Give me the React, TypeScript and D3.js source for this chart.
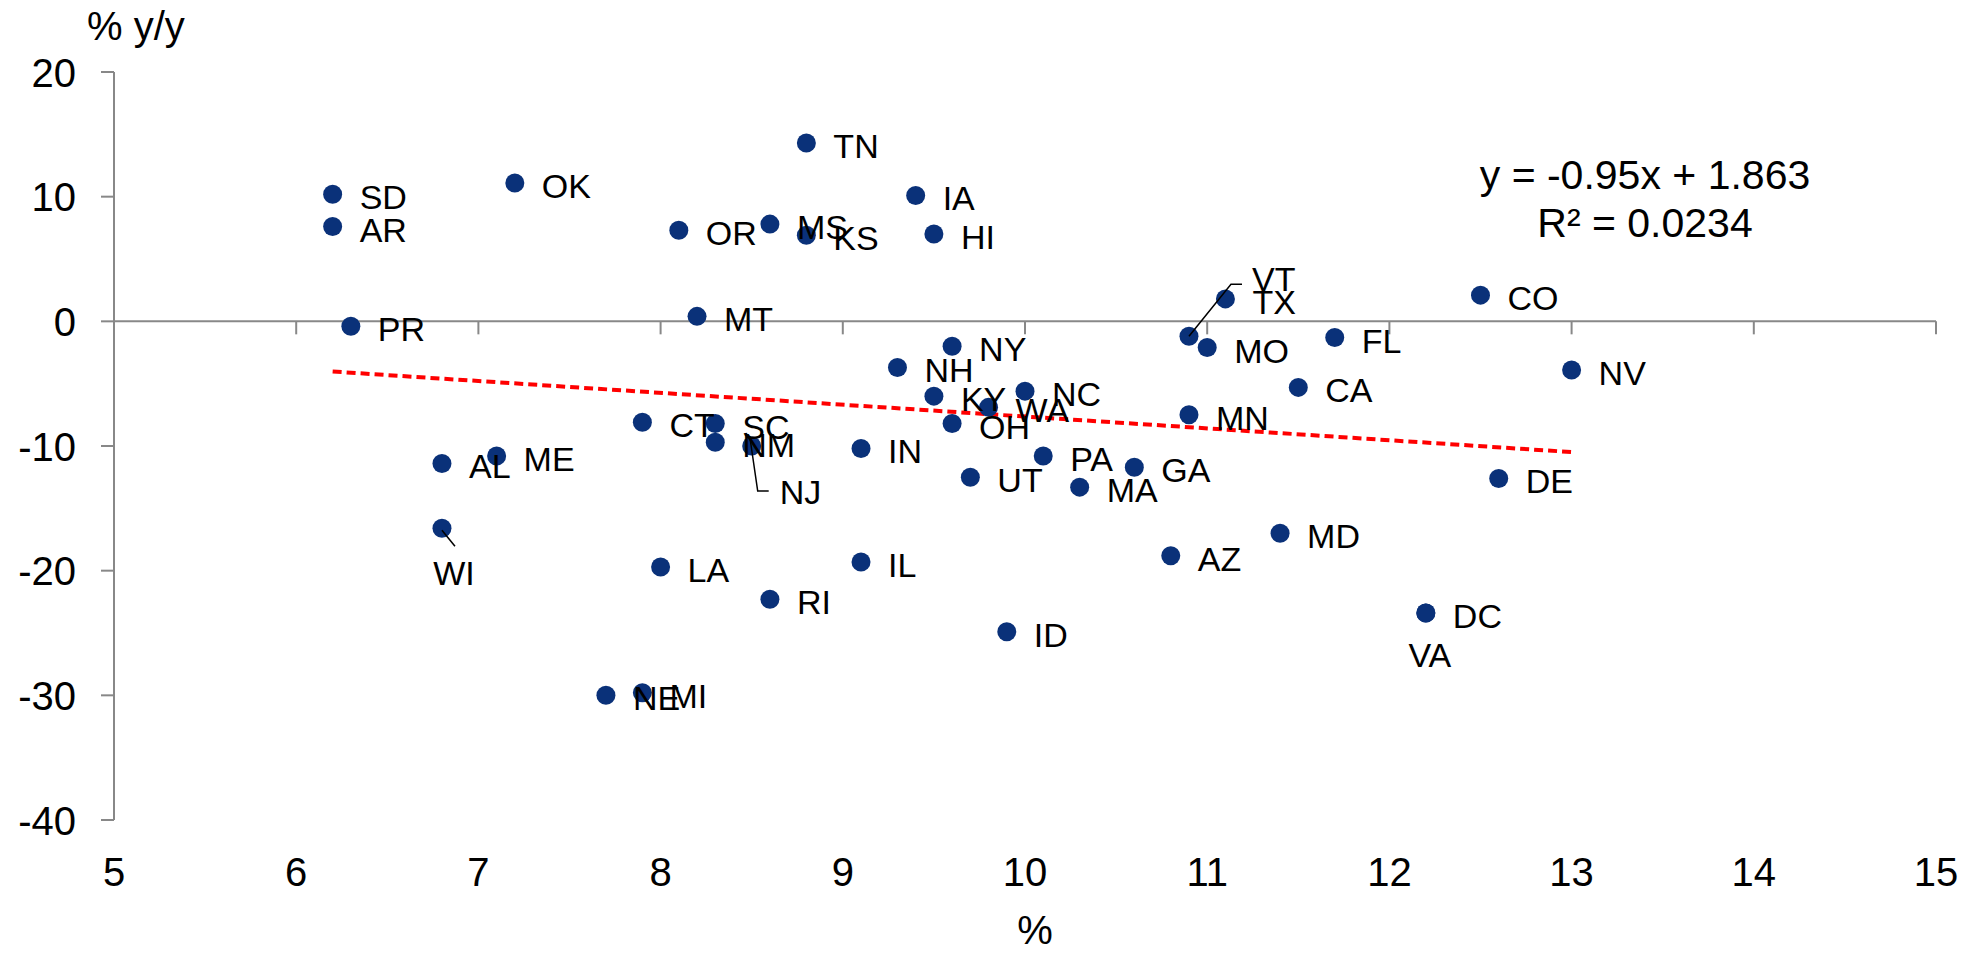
import React from "react";
import * as d3 from "d3";

const states = ["SD","AR","OK","PR","CT","AL","ME","MT","OR","TN","IA","MS","KS","HI","TX","VT","MO","FL","NY","NH","KY","NC","WA","OH","CA","MN","SC","NM","NJ","IN","PA","GA","UT","MA","MD","AZ","LA","IL","RI","ID","WI","NE","MI","DE","DC","VA","CO","NV"];
const xVals = [6.2,6.2,7.2,6.3,7.9,6.8,7.1,8.2,8.1,8.8,9.4,8.6,8.8,9.5,11.1,10.9,11.0,11.7,9.6,9.3,9.5,10.0,9.8,9.6,11.5,10.9,8.3,8.3,8.5,9.1,10.1,10.6,9.7,10.3,11.4,10.8,8.0,9.1,8.6,9.9,6.8,7.7,7.9,12.6,12.2,12.2,12.5,13.0];
const yVals = [10.2,7.6,11.1,-0.4,-8.1,-11.4,-10.8,0.4,7.3,14.3,10.1,7.8,6.9,7.0,1.8,-1.2,-2.1,-1.3,-2.0,-3.7,-6.0,-5.6,-6.9,-8.2,-5.3,-7.5,-8.2,-9.7,-10.0,-10.2,-10.8,-11.7,-12.5,-13.3,-17.0,-18.8,-19.7,-19.3,-22.3,-24.9,-16.6,-30.0,-29.8,-12.6,-23.4,-23.4,2.1,-3.9];
const xTicks = [5,6,7,8,9,10,11,12,13,14,15];
const yTicks = [20,10,0,-10,-20,-30,-40];
const slope = -0.95;
const intercept = 1.863;
const eqText = "y = -0.95x + 1.863";
const r2Text = "R² = 0.0234";
const yTitle = "% y/y";
const xTitle = "%";

const W = 1982, H = 962;
const FONT = "'Liberation Sans', Arial, sans-serif";

export default function App() {
  const x = d3.scaleLinear().domain([5, 15]).range([114, 1936]);
  const y = d3.scaleLinear().domain([-40, 20]).range([820, 72]);
  const pts = states.map((s, i) => ({ s, x: xVals[i], y: yVals[i] }));
  const xmin = d3.min(xVals) as number;
  const xmax = d3.max(xVals) as number;
  const trend = d3.line<number>().x(v => x(v)).y(v => y(slope * v + intercept))([xmin, xmax]) as string;
  const axisColor = "#888888";
  const dotColor = "#0a3179";

  const labelFor = (p: { s: string; x: number; y: number }) => {
    const cx = x(p.x), cy = y(p.y);
    if (p.s === "VT") {
      return (
        <g key={p.s}>
          <polyline points={`${cx},${cy} ${cx + 42},${cy - 52} ${cx + 53},${cy - 52}`} fill="none" stroke="#000" strokeWidth={1.5} />
          <text x={cx + 63} y={cy - 45} fontSize={34}>{p.s}</text>
        </g>
      );
    }
    if (p.s === "NJ") {
      return (
        <g key={p.s}>
          <polyline points={`${cx - 2},${cy - 10} ${cx + 6},${cy + 45} ${cx + 17},${cy + 45}`} fill="none" stroke="#000" strokeWidth={1.5} />
          <text x={cx + 28} y={cy + 58} fontSize={34}>{p.s}</text>
        </g>
      );
    }
    if (p.s === "WI") {
      return (
        <g key={p.s}>
          <line x1={cx} x2={cx + 13} y1={cy + 2} y2={cy + 18} stroke="#000" strokeWidth={1.5} />
          <text x={cx + 12} y={cy + 57} fontSize={34} textAnchor="middle">{p.s}</text>
        </g>
      );
    }
    if (p.s === "VA") {
      return <text key={p.s} x={cx + 4} y={cy + 54} fontSize={34} textAnchor="middle">{p.s}</text>;
    }
    return <text key={p.s} x={cx + 27} y={cy + 15} fontSize={34}>{p.s}</text>;
  };

  return (
    <svg width={W} height={H} style={{ position: "absolute", left: 0, top: 0, background: "#fff" }} fontFamily={FONT}>
      <rect x={0} y={0} width={W} height={H} fill="#fff" />
      {/* y axis */}
      <line x1={x(5)} x2={x(5)} y1={y(20)} y2={y(-40)} stroke={axisColor} strokeWidth={2} />
      {yTicks.map(t => (
        <g key={"yt" + t}>
          <line x1={x(5) - 13} x2={x(5)} y1={y(t)} y2={y(t)} stroke={axisColor} strokeWidth={2} />
          <text x={76} y={y(t) + 14.5} fontSize={40} textAnchor="end">{t}</text>
        </g>
      ))}
      {/* x axis at y=0 */}
      <line x1={x(5)} x2={x(15)} y1={y(0)} y2={y(0)} stroke={axisColor} strokeWidth={2} />
      {xTicks.map(t => (
        <g key={"xt" + t}>
          <line x1={x(t)} x2={x(t)} y1={y(0)} y2={y(0) + 13} stroke={axisColor} strokeWidth={2} />
          <text x={x(t)} y={886} fontSize={40} textAnchor="middle">{t}</text>
        </g>
      ))}
      <text x={87} y={40} fontSize={40}>{yTitle}</text>
      <text x={1035} y={944} fontSize={40} textAnchor="middle">{xTitle}</text>
      {/* trend line */}
      <path d={trend} fill="none" stroke="#ff0000" strokeWidth={4} strokeDasharray="9,5" />
      {/* dots */}
      {pts.map(p => (
        <circle key={"c" + p.s} cx={x(p.x)} cy={y(p.y)} r={9.5} fill={dotColor} />
      ))}
      {/* labels */}
      {pts.map(p => labelFor(p))}
      <text x={1645} y={189} fontSize={41} textAnchor="middle">{eqText}</text>
      <text x={1645} y={237} fontSize={41} textAnchor="middle">{r2Text}</text>
    </svg>
  );
}
